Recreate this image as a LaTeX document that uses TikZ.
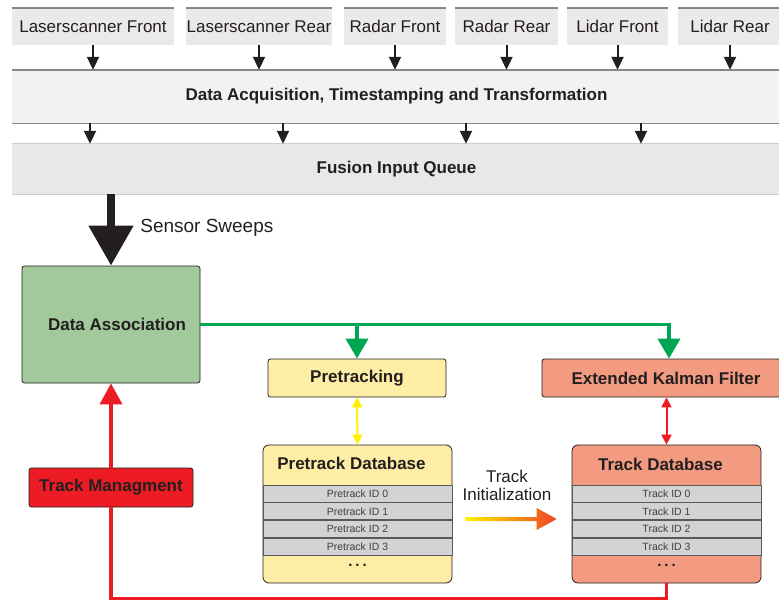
\documentclass[tikz,border=0pt]{standalone}
\usepackage{fontspec}
\setmainfont{Liberation Sans}
\usepackage{xcolor}
\usetikzlibrary{positioning, arrows.meta}

\definecolor{sensorgray}{HTML}{EBE9EA}
\definecolor{edgegray}{HTML}{8A8586}
\definecolor{daqgray}{HTML}{F2F2F2}
\definecolor{queuegray}{HTML}{E9E7E8}
\definecolor{queueedge}{HTML}{CDCBCC}
\definecolor{assocgreen}{HTML}{A1C99B}
\definecolor{linegreen}{HTML}{00A651}
\definecolor{pretrackyellow}{HTML}{FDEDA5}
\definecolor{trackred}{HTML}{F29B80}
\definecolor{mgmtred}{HTML}{ED1C24}
\definecolor{rowgray}{HTML}{D1D3D4}
\definecolor{textdark}{HTML}{231F20}
\definecolor{arrowyellow}{HTML}{FFF200}
\definecolor{initorange}{HTML}{F7941D}
\definecolor{initred}{HTML}{EF4123}

\newcommand{\boxfont}{\fontsize{17}{18}\selectfont}
\newcommand{\rowfont}{\fontsize{10.5}{12}\selectfont}
\newcommand{\sweepfont}{\fontsize{19}{22}\selectfont}

\begin{document}
\begin{tikzpicture}[x=1pt, y=-1pt,
	sensor/.style={fill=sensorgray, minimum height=37pt, inner sep=0pt, text=textdark, font=\boxfont},
	band/.style={minimum width=769pt, inner sep=0pt, text=textdark, font=\boxfont\bfseries},
	block/.style={draw=textdark, line width=0.8pt, rounded corners=2.5pt, inner sep=0pt, text=textdark, font=\boxfont\bfseries},
	dbase/.style={block, rounded corners=6pt, minimum width=189pt, minimum height=138pt},
	dbrow/.style={draw=black!65, line width=0.8pt, fill=rowgray, minimum width=189pt, minimum height=17pt, inner sep=0pt, text=black!75, font=\rowfont},
	feed/.style={draw=textdark, line width=2pt, -{Triangle[width=12pt,length=13pt]}},
	flow/.style={line width=3.6pt},
	bigtip/.style={-{Triangle[width=22pt,length=20pt]}},
	twoway/.style={line width=2pt, {Triangle[width=10pt,length=10pt]}-{Triangle[width=10pt,length=10pt]}}
	]
	\useasboundingbox (0,0) rectangle (779,600);
	\clip (0,0) rectangle (779,600);
	% Sensors
	\foreach \name/\cx/\w/\txt in {lsf/93/162/Laserscanner Front, lsr/259/146/Laserscanner Rear,
		rdf/395/102/Radar Front, rdr/506.5/103/Radar Rear, ldf/617.5/101/Lidar Front, ldr/730/104/Lidar Rear} {
		\node[sensor, minimum width=\w pt] (\name) at (\cx,26.5) {\txt};
		\draw[edgegray, line width=1.5pt] (\name.north west) -- (\name.north east);
	}
	% Acquisition and queue
	\node[band, fill=daqgray, minimum height=53pt] (daq) at (396.5,96.5) {Data Acquisition, Timestamping and Transformation};
	\draw[edgegray, line width=1.5pt] (daq.north west) -- (daq.north east);
	\draw[edgegray, line width=0.8pt] (daq.south west) -- (daq.south east);
	\node[band, fill=queuegray, minimum height=50pt] (fiq) at (396.5,169) {Fusion Input Queue};
	\draw[queueedge, line width=1pt] (fiq.north west) -- (fiq.north east);
	\draw[queueedge, line width=1pt] (fiq.south west) -- (fiq.south east);
	\foreach \name in {lsf, lsr, rdf, rdr, ldf, ldr}
		\draw[feed] (\name.south) -- (\name.south |- daq.north);
	\foreach \x in {90, 283, 466, 641}
		\draw[feed] (\x,0 |- daq.south) -- (\x,0 |- fiq.north);
	% Association
	\node[block, fill=assocgreen, minimum width=178pt, minimum height=117pt] (da) at (111,324.5) {\hspace{12pt}Data Association};
	\draw[textdark, line width=8pt, -{Triangle[width=43pt,length=40pt]}] (da.north |- fiq.south) -- (da.north)
		node[pos=0.47, right=22pt, font=\sweepfont, text=textdark] (sweeps) {Sensor Sweeps};
	% Filters
	\node[block, fill=pretrackyellow, minimum width=178pt, minimum height=38pt] (pre) at (357,378) {Pretracking};
	\node[block, fill=trackred, minimum width=240pt, minimum height=38pt] (ekf) at (662,378) {\hspace{8pt}Extended Kalman Filter};
	\draw[flow, linegreen, bigtip] (da.east) -| (669,0 |- ekf.north);
	\draw[flow, linegreen, bigtip] (da.east -| pre.north) -- (pre.north);
	% Databases
	\node[dbase, fill=pretrackyellow] (pdb) at (357.5,514) {};
	\node[dbase, fill=trackred] (tdb) at (666.5,514) {};
	\node[text=textdark, font=\boxfont\bfseries] (pdbtitle) at ([xshift=-6pt,yshift=-19pt]pdb.north) {Pretrack Database};
	\node[text=textdark, font=\boxfont\bfseries] (tdbtitle) at ([xshift=-6pt,yshift=-20pt]tdb.north) {Track Database};
	\node[dbrow, below=40pt of pdb.north] (prow0) {Pretrack ID 0};
	\node[dbrow, below=40pt of tdb.north] (trow0) {Track ID 0};
	\foreach \i [count=\j from 0] in {1,2,3} {
		\node[dbrow, below=0pt of prow\j] (prow\i) {Pretrack ID \i};
		\node[dbrow, below=0pt of trow\j] (trow\i) {Track ID \i};
	}
	\node[text=textdark, font=\fontsize{15}{16}\selectfont\bfseries] (pdots) at ([yshift=-10pt]prow3.south) {.\hspace{3pt}.\hspace{3pt}.};
	\node[text=textdark, font=\fontsize{15}{16}\selectfont\bfseries] (tdots) at ([yshift=-10pt]trow3.south) {.\hspace{3pt}.\hspace{3pt}.};
	\draw[twoway, arrowyellow] (pre.south) -- (pdb.north);
	\draw[twoway, mgmtred] (ekf.south -| tdb.north) -- (tdb.north);
	% Track initialization
	\coordinate (initstart) at ([xshift=13pt,yshift=-5pt]pdb.east);
	\coordinate (initend) at ([xshift=-15pt,yshift=-5pt]tdb.west);
	\shade[left color=arrowyellow, middle color=initorange, right color=initred]
		([yshift=2pt]initstart) -- ([xshift=-20pt,yshift=2pt]initend) -- ([xshift=-20pt,yshift=11pt]initend)
		-- (initend) -- ([xshift=-20pt,yshift=-11pt]initend) -- ([xshift=-20pt,yshift=-2pt]initend)
		-- ([yshift=-2pt]initstart) -- cycle;
	\node[align=center, text=textdark, font=\boxfont] (initlabel) at (507,485) {Track\\Initialization};
	% Track management
	\node[block, fill=mgmtred, minimum width=164pt, minimum height=39pt] (tm) at (111,487.5) {Track Managment};
	\draw[flow, mgmtred] (tdb.south) -- ++(0,15) -| (tm.south);
	\draw[flow, mgmtred, -{Triangle[width=22pt,length=21pt]}] (tm.north) -- (da.south);
\end{tikzpicture}
\end{document}
